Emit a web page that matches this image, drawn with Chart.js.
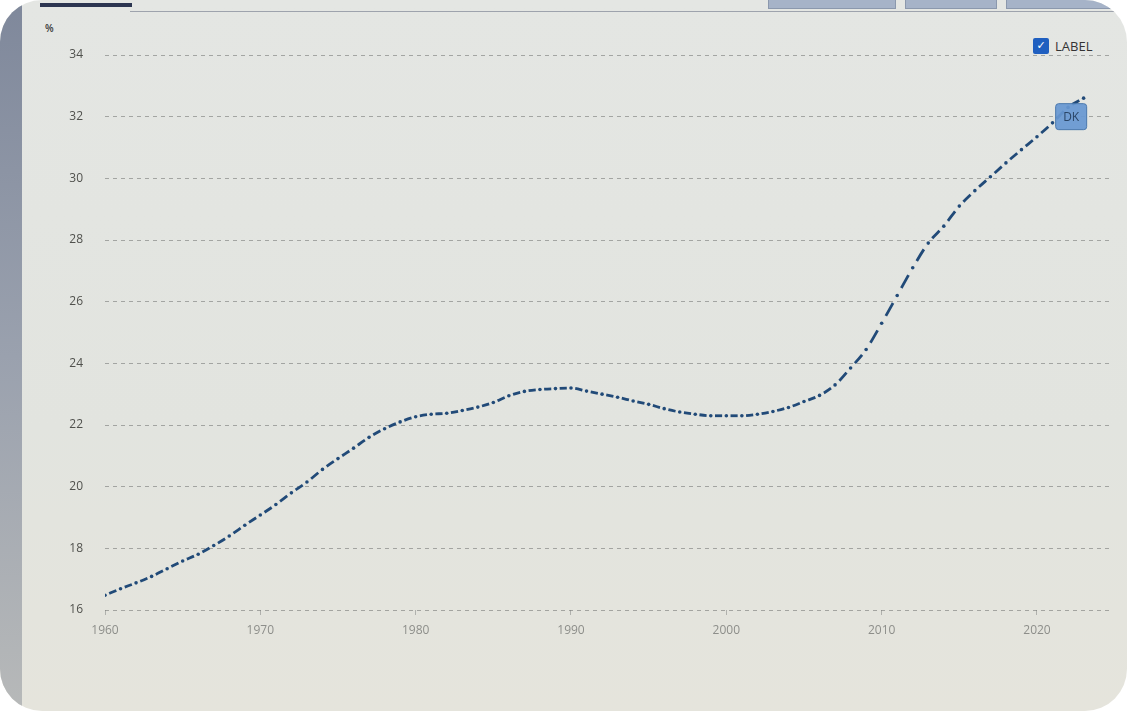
<!DOCTYPE html>
<html>
<head>
<meta charset="utf-8">
<script src="https://cdn.jsdelivr.net/npm/chart.js@4.4.1/dist/chart.umd.min.js"></script>
<style>
    html, body { margin: 0; padding: 0; background: #ffffff; }
    .frame {
        position: absolute; left: 0; top: 0; width: 1127px; height: 711px;
        border-radius: 42px; overflow: hidden;
        background: linear-gradient(180deg, #e4e6e3 0%, #e2e4df 60%, #e5e4dc 100%);
    }
    .bezel {
        position: absolute; left: 0; top: 0; width: 22px; height: 711px;
        background: linear-gradient(180deg, #7f889b 0%, #9aa1ae 50%, #b7b9b9 100%);
    }
    .topline { position: absolute; left: 130px; top: 11px; width: 1000px; height: 1px; background: #9ea3ad; }
    .tab { position: absolute; left: 40px; top: 3px; width: 92px; height: 4px; background: #2c3550; }
    .btn { position: absolute; top: 0; height: 8px; background: #a6b3c8; border: 1px solid #8b98ad; border-top: none; }
    .unit { position: absolute; left: 45px; top: 21px; font: 600 10px "Open Sans", sans-serif; color: #3a3a3a; }
    .legend { position: absolute; left: 1033px; top: 37px; display: flex; align-items: center;
        font: 13px "Open Sans", sans-serif; color: #333333; }
    .legend .box { width: 16px; height: 16px; background: #1f5fc0; border-radius: 2px; margin-right: 6px;
        color: #fff; font: bold 11px "DejaVu Sans", sans-serif; text-align: center; line-height: 16px; }
    canvas { position: absolute; left: 0; top: 0; }
</style>
</head>
<body>
<div class="frame">
    <div class="bezel"></div>
    <div class="tab"></div>
    <div class="topline"></div>
    <div class="btn" style="left:768px;width:126px"></div>
    <div class="btn" style="left:905px;width:90px"></div>
    <div class="btn" style="left:1006px;width:110px"></div>
    <div class="unit">%</div>
    <div class="legend"><div class="box">&#10003;</div>LABEL</div>
    <canvas id="myChart" width="1127" height="711"></canvas>
</div>
<script>
// Data (DK, %)
const years = [
    1960, 1961, 1962, 1963, 1964, 1965, 1966, 1967, 1968, 1969,
    1970, 1971, 1972, 1973, 1974, 1975, 1976, 1977, 1978, 1979,
    1980, 1981, 1982, 1983, 1984, 1985, 1986, 1987, 1988, 1989,
    1990, 1991, 1992, 1993, 1994, 1995, 1996, 1997, 1998, 1999,
    2000, 2001, 2002, 2003, 2004, 2005, 2006, 2007, 2008, 2009,
    2010, 2011, 2012, 2013, 2014, 2015, 2016, 2017, 2018, 2019,
    2020, 2021, 2022, 2023
];
const dkValues = [
    16.48, 16.69, 16.88, 17.09, 17.34, 17.59, 17.81, 18.09, 18.40, 18.75,
    19.08, 19.42, 19.80, 20.15, 20.56, 20.91, 21.25, 21.60, 21.88, 22.10,
    22.27, 22.35, 22.38, 22.47, 22.58, 22.73, 22.95, 23.09, 23.15, 23.18,
    23.20, 23.10, 23.00, 22.90, 22.78, 22.67, 22.53, 22.42, 22.35, 22.30,
    22.30, 22.30, 22.35, 22.44, 22.57, 22.76, 22.96, 23.30, 23.85, 24.45,
    25.30, 26.20, 27.10, 27.90, 28.45, 29.10, 29.60, 30.05, 30.50, 30.93,
    31.35, 31.80, 32.30, 32.60
];
const yTicks = [16, 18, 20, 22, 24, 26, 28, 30, 32, 34];
const xTickYears = [1960, 1970, 1980, 1990, 2000, 2010, 2020];
const seriesLabel = 'DK';
const tagValue = 32;      // the tag sits on the 32 level, under the last points
const tagYear = 2022.2;

// LINE COLOR - dark navy dash-dot
const lineColor = '#214a78';

// draws the little "DK" tag near the end of the line
const tagPlugin = {
    id: 'tag',
    afterDatasetsDraw(chart) {
        const xs = chart.scales.x, ys = chart.scales.y;
        const cx = xs.getPixelForValue(tagYear);
        const cy = ys.getPixelForValue(tagValue);
        const ctx = chart.ctx;
        const w = 31, h = 26;
        const x = cx - w / 2, y = cy - h / 2;
        ctx.save();
        ctx.fillStyle = 'rgba(104, 152, 210, 0.93)';
        ctx.strokeStyle = '#4a78ad';
        ctx.lineWidth = 1;
        ctx.beginPath();
        ctx.roundRect(x, y, w, h, 3);
        ctx.fill();
        ctx.stroke();
        ctx.fillStyle = '#2a4566';
        ctx.font = '12px "Open Sans", sans-serif';
        ctx.textAlign = 'center';
        ctx.textBaseline = 'middle';
        ctx.fillText(seriesLabel, cx, cy + 1);
        ctx.restore();
    }
};

function createChart() {
    const ctx = document.getElementById('myChart').getContext('2d');
    const points = years.map((yr, i) => ({ x: yr, y: dkValues[i] }));

    return new Chart(ctx, {
        type: 'line',
        data: {
            datasets: [{
                label: seriesLabel,
                data: points,
                borderColor: lineColor,
                backgroundColor: lineColor,
                borderWidth: 2.8,
                pointRadius: 1.8,
                pointBorderWidth: 0,
                pointBackgroundColor: lineColor,
                cubicInterpolationMode: 'monotone',
                fill: false,
                // one dash in the middle of every yearly step, dot on each year
                segment: {
                    borderDash: c => {
                        const d = Math.hypot(c.p1.x - c.p0.x, c.p1.y - c.p0.y);
                        return [0, d * 0.27, d * 0.46, d];
                    }
                }
            }]
        },
        options: {
            responsive: false,
            animation: false,
            layout: { padding: { left: 0, top: 55, right: 17, bottom: 0 } },
            plugins: {
                legend: { display: false },
                tooltip: { enabled: false }
            },
            scales: {
                x: {
                    type: 'linear',
                    min: 1960,
                    max: 2024.7,
                    afterBuildTicks: s => { s.ticks = xTickYears.map(v => ({ value: v })); },
                    afterFit: s => { s.height = 101; },
                    grid: {
                        drawOnChartArea: false,
                        drawTicks: true,
                        tickLength: 5,
                        color: '#b0b1ad'
                    },
                    border: { display: false },
                    ticks: {
                        color: '#8d8e8a',
                        padding: 8,
                        maxRotation: 0,
                        font: { family: 'Open Sans', size: 12 },
                        callback: v => String(v)
                    }
                },
                y: {
                    min: 16,
                    max: 34,
                    afterBuildTicks: s => { s.ticks = yTicks.map(v => ({ value: v })); },
                    afterFit: s => { s.width = 105; },
                    grid: {
                        drawTicks: false,
                        color: 'rgba(120, 122, 120, 0.6)',
                        lineWidth: 1
                    },
                    border: { display: false, dash: [4, 4] },
                    ticks: {
                        color: '#50514d',
                        padding: 22,
                        font: { family: 'Open Sans', size: 12 }
                    }
                }
            }
        },
        plugins: [tagPlugin]
    });
}

document.addEventListener('DOMContentLoaded', createChart);
</script>
</body>
</html>
